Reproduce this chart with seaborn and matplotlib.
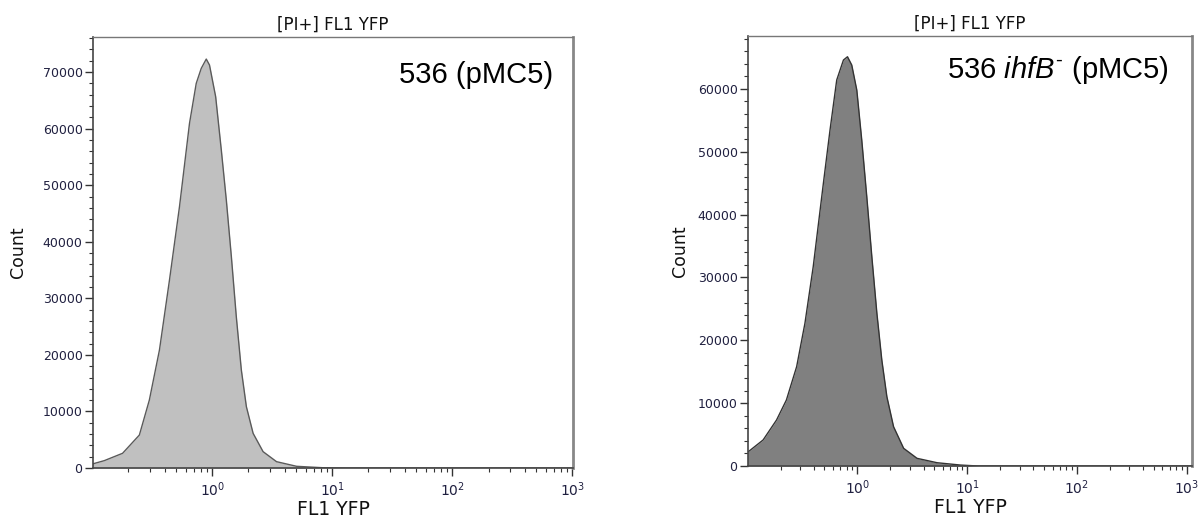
import numpy as np
import matplotlib
matplotlib.use('Agg')
import matplotlib.pyplot as plt
from matplotlib.ticker import MultipleLocator, LogLocator, NullFormatter
import seaborn as sns

# FL1 YFP histogram outlines
wt_fl1 = [0.100, 0.126, 0.179, 0.247, 0.299, 0.363, 0.440, 0.533, 0.646, 0.735,
          0.809, 0.891, 0.948, 1.067, 1.189, 1.309, 1.442, 1.585, 1.746, 1.923,
          2.188, 2.649, 3.428, 5.035, 8.318, 12.6, 1000.0]
wt_count = [700, 1300, 2600, 5830, 12000, 20860, 33230, 46190, 60930, 68000,
            70650, 72300, 71240, 65640, 56210, 47370, 37350, 26750, 17320, 10840,
            6130, 2890, 1120, 300, 50, 0, 0]

ihfb_fl1 = [0.097, 0.138, 0.183, 0.225, 0.279, 0.332, 0.395, 0.489, 0.562, 0.647,
            0.745, 0.811, 0.887, 0.986, 1.094, 1.216, 1.352, 1.503, 1.667, 1.854,
            2.133, 2.636, 3.491, 5.321, 8.71, 12.6, 1120.0]
ihfb_count = [2020, 4140, 7320, 10500, 15800, 22700, 31700, 44970, 53440, 61400,
              64580, 65100, 63780, 59800, 51850, 42830, 33290, 24290, 16860, 11020,
              6250, 2810, 1220, 520, 150, 0, 0]

panel_titles = ['[PI+] FL1 YFP', '[PI+] FL1 YFP']
panel_labels = ['536 (pMC5)', r'536 $\mathit{ihfB}^{\text{-}}$ (pMC5)']

sns.set_style('ticks')
plt.rcParams['font.family'] = ['DejaVu Sans']
plt.rcParams['mathtext.fontset'] = 'custom'
plt.rcParams['mathtext.rm'] = 'Liberation Sans'
plt.rcParams['mathtext.it'] = 'Liberation Sans:italic'

tick_col = '#202040'

fig = plt.figure(figsize=(12.01, 5.21), dpi=100)
ax1 = fig.add_axes([93 / 1201, 53 / 521, 480 / 1201, 431 / 521])
ax2 = fig.add_axes([748 / 1201, 55 / 521, 444 / 1201, 430 / 521])

setups = [
    (ax1, wt_fl1, wt_count, '#c0c0c0', '#5a5a5a', (0.1015, 1010), 76200, 11, 0.958, 0.894),
    (ax2, ihfb_fl1, ihfb_count, '#808080', '#333333', (0.1005, 1120), 68400, 6, 0.948, 0.902),
]

for i, (ax, xs, ys, fill, edge, xlim, ytop, lpad, tx, ty) in enumerate(setups):
    ax.set_xscale('log')
    ax.fill_between(xs, ys, 0, color=fill, lw=0)
    sns.lineplot(x=xs, y=ys, ax=ax, color=edge, lw=1.0)
    ax.set_xlim(*xlim)
    ax.set_ylim(0, ytop)

    ax.xaxis.set_major_locator(LogLocator(base=10, numticks=10))
    ax.xaxis.set_minor_locator(LogLocator(base=10, subs=np.arange(2, 10), numticks=20))
    ax.xaxis.set_minor_formatter(NullFormatter())
    ax.yaxis.set_major_locator(MultipleLocator(10000))
    ax.yaxis.set_minor_locator(MultipleLocator(2000))

    ax.tick_params(which='major', length=6, width=1, color='#333333',
                   labelsize=9, labelcolor=tick_col, pad=1.5)
    ax.tick_params(axis='x', which='major', labelsize=10, pad=3)
    ax.tick_params(which='minor', length=3, width=0.8, color='#333333')

    for side in ['left', 'bottom']:
        ax.spines[side].set_color('#444444')
        ax.spines[side].set_linewidth(1.2)
    ax.spines['right'].set_color('#888888')
    ax.spines['right'].set_linewidth(2)
    ax.spines['top'].set_color('#777777')
    ax.spines['top'].set_linewidth(1)

    ax.set_title(panel_titles[i], fontsize=12, color='#111111', pad=5)
    ax.set_xlabel('FL1 YFP', fontsize=13.5, color='#111111', labelpad=1)
    ax.set_ylabel('Count', fontsize=12.5, color='#111111', labelpad=lpad)
    ax.text(tx, ty, panel_labels[i], transform=ax.transAxes, ha='right',
            va='baseline', fontsize=21, family='Liberation Sans', color='black')

fig.savefig('out.png', dpi=100)
